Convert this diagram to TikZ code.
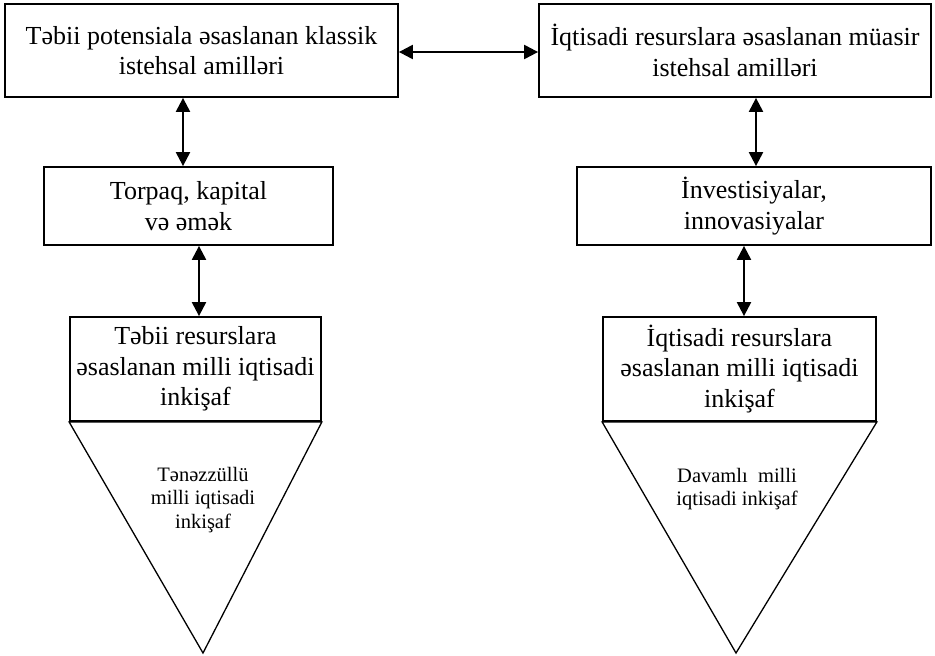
\documentclass[tikz,border=0pt]{standalone}
\usepackage{fontspec}
\setmainfont{Liberation Serif}
\usetikzlibrary{arrows.meta}
\begin{document}
\begin{tikzpicture}[x=1pt,y=-1pt,
  box/.style={draw,line width=1.8pt,rectangle,inner sep=0pt,align=center,
    font=\fontsize{26}{30.5}\selectfont},
  tri/.style={draw,line width=1.3pt,line join=miter},
  arr/.style={line width=2.2pt,{Triangle[length=14pt,width=14pt]}-{Triangle[length=14pt,width=14pt]}},
  small/.style={align=center,inner sep=0pt,font=\fontsize{20.5}{23.5}\selectfont}]
\useasboundingbox (0,0) rectangle (935,656);
\node[box,minimum width=393pt,minimum height=93pt] (tl) at (201.5,50.5) {Təbii potensiala əsaslanan klassik\\istehsal amilləri};
\node[box,minimum width=392pt,minimum height=93pt] (tr) at (735,50.5) {İqtisadi resurslara əsaslanan müasir\\istehsal amilləri};
\node[box,minimum width=289pt,minimum height=78pt] (ml) at (188.5,206) {Torpaq, kapital\\və əmək};
\node[box,minimum width=354pt,minimum height=78pt] (mr) at (754,206) {İnvestisiyalar,\\innovasiyalar};
\node[box,minimum width=251pt,minimum height=104pt] (bl) at (195.5,369) {Təbii resurslara\\əsaslanan milli iqtisadi\\inkişaf};
\node[box,minimum width=273pt,minimum height=104pt] (br) at (739.5,369) {İqtisadi resurslara\\əsaslanan milli iqtisadi\\inkişaf};
\coordinate (apexl) at (203,653);
\coordinate (apexr) at (736,653);
\draw[tri] (bl.south west) -- (bl.south east) -- (apexl) -- cycle;
\draw[tri] (br.south west) -- (br.south east) -- (apexr) -- cycle;
\node[small] (tlt) at (203,500) {Tənəzzüllü\\milli iqtisadi\\inkişaf};
\node[small] (trt) at (737,489) {Davamlı\ \ milli\\iqtisadi inkişaf};
\coordinate (xa) at (183,0);
\coordinate (xb) at (199,0);
\coordinate (xc) at (756,0);
\coordinate (xd) at (744,0);
\draw[arr] (tl.east |- 0,52) -- (tr.west |- 0,52);
\draw[arr] (tl.south -| xa) -- (ml.north -| xa);
\draw[arr] (ml.south -| xb) -- (bl.north -| xb);
\draw[arr] (tr.south -| xc) -- (mr.north -| xc);
\draw[arr] (mr.south -| xd) -- (br.north -| xd);
\end{tikzpicture}
\end{document}
